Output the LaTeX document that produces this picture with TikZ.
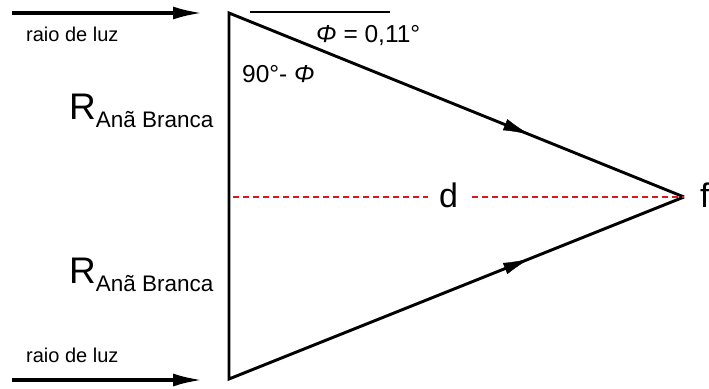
\documentclass[tikz,border=0pt]{standalone}
\usepackage{fontspec}
\setmainfont{Liberation Sans}
\usetikzlibrary{arrows.meta,decorations.markings}
\definecolor{dashred}{RGB}{215,25,30}
\begin{document}
\begin{tikzpicture}[x=1pt,y=-1pt,
  tri/.style={line width=2.9pt},
  ray/.style={line width=3.8pt,-{Latex[length=30pt,width=13pt]}},
  midarrow/.style={decoration={markings,mark=at position 0.66 with {\arrow{Latex[length=26pt,width=12pt]}}},postaction={decorate}},
  lbl/.style={inner sep=0pt,anchor=base west,font=\fontsize{20}{24}\selectfont},
  ang/.style={inner sep=0pt,anchor=base west,font=\fontsize{24.5}{28}\selectfont},
  big/.style={inner sep=0pt,anchor=base west,font=\fontsize{34}{38}\selectfont},
  redd/.style={dashred,line width=2.5pt,dash pattern=on 6pt off 4pt}
]
\useasboundingbox (0,0) rectangle (709,388);
\coordinate (A) at (229,13);
\coordinate (B) at (229,379);
\coordinate (F) at (684,197);
\draw[tri,line join=miter] (F) -- (A) -- (B) -- (F);
\path[midarrow] (A) -- (F);
\path[midarrow] (B) -- (F);
\coordinate (t1) at (12,13);
\coordinate (t2) at (203,13);
\coordinate (b1) at (12,380);
\coordinate (b2) at (203,380);
\draw[ray] (t1) -- (t2);
\draw[ray] (b1) -- (b2);
\coordinate (h1) at (250,12);
\coordinate (h2) at (390,12);
\draw[line width=1.6pt] (h1) -- (h2);
\node[lbl] (r1) at (26,41) {raio de luz};
\node[lbl] (r2) at (26,362) {raio de luz};
\node[ang] (phi) at (316,42) {\textit{Φ} = 0,11°};
\node[ang] (ang) at (242,82) {90°- \textit{Φ}};
\node[anchor=base west,inner sep=0pt] (R1) at (69,119) {\fontsize{37}{40}\selectfont R\raisebox{-8pt}{\fontsize{22.5}{26}\selectfont Anã Branca}};
\node[anchor=base west,inner sep=0pt] (R2) at (69,283) {\fontsize{37}{40}\selectfont R\raisebox{-8pt}{\fontsize{22.5}{26}\selectfont Anã Branca}};
\node[big] (d) at (439,207) {d};
\node[big] (f) at (700,207) {f};
\coordinate (m1) at (233,197);
\coordinate (m2) at (428,197);
\coordinate (m3) at (472,197);
\draw[redd] (m1) -- (m2);
\draw[redd] (m3) -- (F);
\end{tikzpicture}
\end{document}
